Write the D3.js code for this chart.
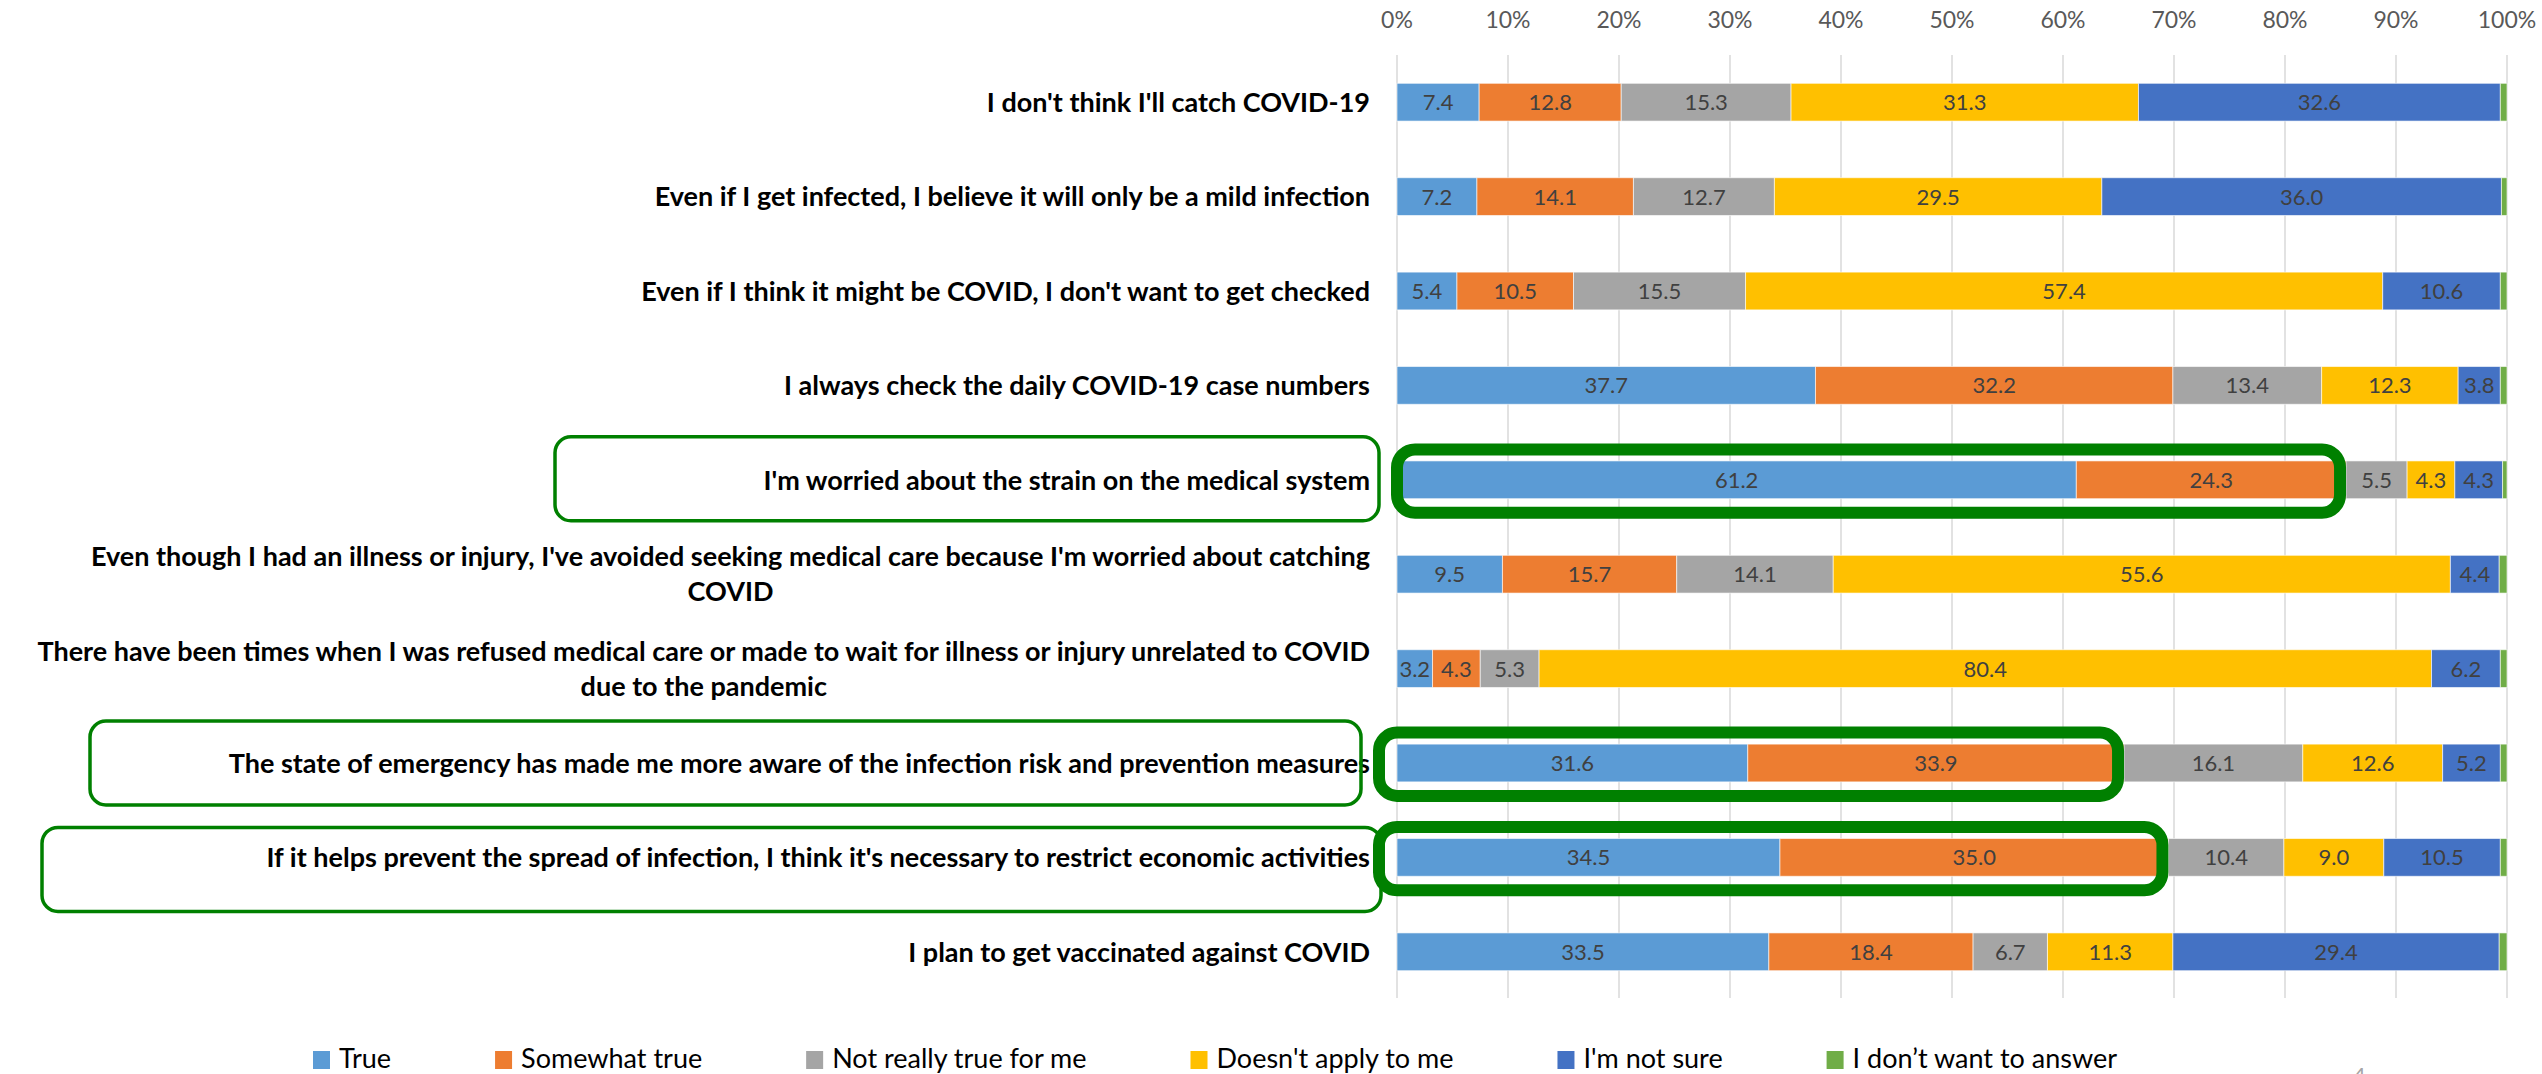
<!DOCTYPE html>
<html lang="en">
<head>
<meta charset="UTF-8">
<title>COVID survey</title>
<script src="https://d3js.org/d3.v7.min.js"></script>
<style>
  body { margin: 0; background: #fff; }
  text { font-family: Lato, "Noto Sans", sans-serif; }
</style>
</head>
<body>
<script>

// data
var categories = [
    "I don't think I'll catch COVID-19",
    "Even if I get infected, I believe it will only be a mild infection",
    "Even if I think it might be COVID, I don't want to get checked",
    "I always check the daily COVID-19 case numbers",
    "I'm worried about the strain on the medical system",
    "Even though I had an illness or injury, I've avoided seeking medical care because I'm worried about catching\nCOVID",
    "There have been times when I was refused medical care or made to wait for illness or injury unrelated to COVID\ndue to the pandemic",
    "The state of emergency has made me more aware of the infection risk and prevention measures",
    "If it helps prevent the spread of infection, I think it's necessary to restrict economic activities",
    "I plan to get vaccinated against COVID"
];
var seriesNames = ["True", "Somewhat true", "Not really true for me", "Doesn't apply to me", "I'm not sure", "I don\u2019t want to answer"];
var trueVals    = [7.4, 7.2, 5.4, 37.7, 61.2, 9.5, 3.2, 31.6, 34.5, 33.5];
var somewhat    = [12.8, 14.1, 10.5, 32.2, 24.3, 15.7, 4.3, 33.9, 35.0, 18.4];
var notReally   = [15.3, 12.7, 15.5, 13.4, 5.5, 14.1, 5.3, 16.1, 10.4, 6.7];
var doesntApply = [31.3, 29.5, 57.4, 12.3, 4.3, 55.6, 80.4, 12.6, 9.0, 11.3];
var notSure     = [32.6, 36.0, 10.6, 3.8, 4.3, 4.4, 6.2, 5.2, 10.5, 29.4];
var noAnswer    = [0.6, 0.5, 0.6, 0.6, 0.4, 0.7, 0.6, 0.6, 0.6, 0.7];
var tickVals = [0, 10, 20, 30, 40, 50, 60, 70, 80, 90, 100];

// rows marked with green boxes
var highlightRows = [4, 7, 8];

var colors = ["#5B9BD5", "#ED7D31", "#A5A5A5", "#FFC000", "#4472C4", "#70AD47"];
var green = "#008000";

var W = 2542, H = 1074;
var svg = d3.select("body").append("svg")
    .attr("width", W).attr("height", H);
svg.append("rect").attr("width", W).attr("height", H).attr("fill", "#fff");

var x = d3.scaleLinear().domain([0, 100]).range([1397, 2507]);
var y = d3.scaleBand().domain(d3.range(categories.length))
    .range([55, 999]).paddingInner(0.6).paddingOuter(0.3);

var rows = categories.map(function (c, i) {
    return { i: i, s0: trueVals[i], s1: somewhat[i], s2: notReally[i], s3: doesntApply[i], s4: notSure[i], s5: noAnswer[i] };
});
var keys = ["s0", "s1", "s2", "s3", "s4", "s5"];
var stacked = d3.stack().keys(keys)(rows);

// gridlines
svg.append("g").selectAll("line").data(tickVals).enter().append("line")
    .attr("x1", function (d) { return x(d); }).attr("x2", function (d) { return x(d); })
    .attr("y1", 55).attr("y2", 998)
    .attr("stroke", "#d9d9d9").attr("stroke-width", 1.5);

// top axis labels
svg.append("g").selectAll("text").data(tickVals).enter().append("text")
    .attr("x", function (d) { return x(d); }).attr("y", 28)
    .attr("text-anchor", "middle")
    .attr("font-size", 23).attr("fill", "#595959")
    .text(function (d) { return d + "%"; });

// bars
var layers = svg.append("g").selectAll("g").data(stacked).enter().append("g")
    .attr("fill", function (d, k) { return colors[k]; });

layers.selectAll("rect").data(function (d) { return d; }).enter().append("rect")
    .attr("x", function (d) { return x(d[0]); })
    .attr("width", function (d) { return x(d[1]) - x(d[0]); })
    .attr("y", function (d) { return y(d.data.i); })
    .attr("height", y.bandwidth())
    .attr("stroke", "#fff").attr("stroke-opacity", 0.6).attr("stroke-width", 1);

// values inside the bars (skip the tiny green one)
layers.filter(function (d, k) { return k < 5; })
    .selectAll("text").data(function (d) { return d; }).enter().append("text")
    .attr("x", function (d) { return (x(d[0]) + x(d[1])) / 2; })
    .attr("y", function (d) { return y(d.data.i) + y.bandwidth() / 2; })
    .attr("dy", "0.36em")
    .attr("text-anchor", "middle")
    .attr("font-size", 22).attr("fill", "#404040")
    .text(function (d) { return (d[1] - d[0]).toFixed(1); });

// category labels, right aligned block, lines centred
var labelRight = 1370;
var lineH = 35;
categories.forEach(function (c, i) {
    var lines = c.split("\n");
    var cy = y(i) + y.bandwidth() / 2;
    var g = svg.append("g");
    var texts = lines.map(function (ln, j) {
        return g.append("text")
            .attr("y", cy + (j - (lines.length - 1) / 2) * lineH)
            .attr("dy", "0.36em")
            .attr("font-size", 27).attr("font-weight", "bold").attr("fill", "#000")
            .attr("text-anchor", "middle")
            .text(ln);
    });
    var wmax = d3.max(texts, function (t) { return t.node().getComputedTextLength(); });
    texts.forEach(function (t) { t.attr("x", labelRight - wmax / 2); });
});

// green boxes round the label and the first two segments
var labelBoxes = [
    { row: 4, x0: 555, x1: 1379, top: -43, bottom: 41 },
    { row: 7, x0: 90, x1: 1361, top: -42, bottom: 42 },
    { row: 8, x0: 42, x1: 1381, top: -30, bottom: 54 }
];
labelBoxes.forEach(function (b) {
    var cy = y(b.row) + y.bandwidth() / 2;
    svg.append("rect")
        .attr("x", b.x0).attr("y", cy + b.top)
        .attr("width", b.x1 - b.x0).attr("height", b.bottom - b.top)
        .attr("rx", 16).attr("fill", "none")
        .attr("stroke", green).attr("stroke-width", 3.5);
});

highlightRows.forEach(function (r, n) {
    var left = n === 0 ? x(0) : x(0) - 18;
    var right = x(trueVals[r] + somewhat[r]) - 6;
    var top = y(r) - 11.5, bottom = y(r) + y.bandwidth() + 14;
    svg.append("rect")
        .attr("x", left).attr("y", top)
        .attr("width", right - left).attr("height", bottom - top)
        .attr("rx", 18).attr("fill", "none")
        .attr("stroke", green).attr("stroke-width", 12);
});

// legend, spread between the same ends as the original
var legStart = 313, legEnd = 2117;
var legend = svg.append("g");
var items = seriesNames.map(function (s, k) {
    var item = legend.append("g");
    item.append("rect").attr("x", 0).attr("y", 1051).attr("width", 17).attr("height", 18)
        .attr("fill", colors[k]);
    var t = item.append("text").attr("x", 26).attr("y", 1068)
        .attr("font-size", 27).attr("fill", "#000").text(s);
    return { g: item, w: 26 + t.node().getComputedTextLength() };
});
var gap = (legEnd - legStart - d3.sum(items, function (d) { return d.w; })) / (items.length - 1);
var lx = legStart;
items.forEach(function (it) {
    it.g.attr("transform", "translate(" + lx + ",0)");
    lx += it.w + gap;
});

// page number peeking in at the bottom
svg.append("text").attr("x", 2353).attr("y", 1083)
    .attr("font-size", 22).attr("fill", "#a6a6a6").text("4");

</script>
</body>
</html>
